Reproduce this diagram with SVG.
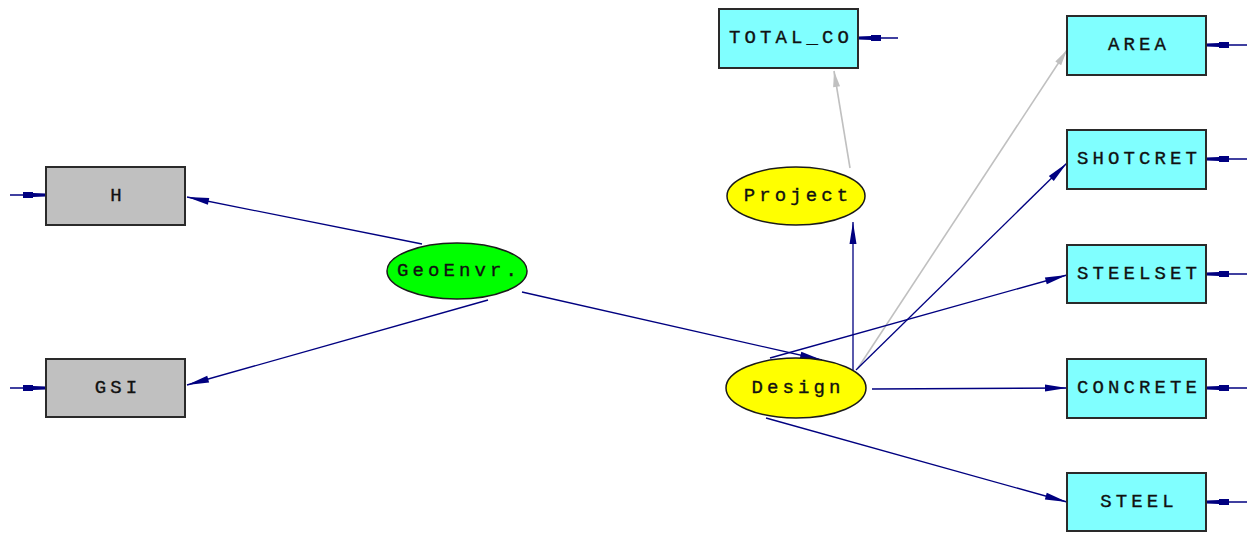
<svg xmlns="http://www.w3.org/2000/svg" width="1253" height="533" viewBox="0 0 1253 533">
<style>
.box{stroke:#2a2a2a;stroke-width:2}
.obs{fill:#80ffff}
.gry{fill:#c0c0c0}
.ell{stroke:#1a1a1a;stroke-width:1.5}
.lbl{font-family:"Liberation Mono","Courier New",monospace;font-size:19px;letter-spacing:4.1px;fill:#111;stroke:#111;stroke-width:0.35;text-anchor:middle;dominant-baseline:central}
.c{stroke:#000080;stroke-width:1.3;fill:none;marker-end:url(#ah)}
.g{stroke:#c0c0c0;stroke-width:1.6;fill:none;marker-end:url(#ahg)}
.e{stroke:#000080;stroke-width:1.3;fill:none;marker-end:url(#ae)}
</style>
<defs>
<marker id="ah" markerUnits="userSpaceOnUse" markerWidth="26" markerHeight="10" viewBox="-24 -5 26 10" refX="0" refY="0" orient="auto">
<path d="M-22,-3.5 L0,0 L-22,3.5 z" fill="#000080"/>
</marker>
<marker id="ahg" markerUnits="userSpaceOnUse" markerWidth="26" markerHeight="10" viewBox="-24 -5 26 10" refX="0" refY="0" orient="auto">
<path d="M-16,-3.5 L0,0 L-16,3.5 z" fill="#c0c0c0"/>
</marker>
<marker id="ae" markerUnits="userSpaceOnUse" markerWidth="26" markerHeight="10" viewBox="-24 -5 26 10" refX="0" refY="0" orient="auto">
<path d="M-23,-3 L-13,-3 L-13,-2 L0,-1.5 L0,1.5 L-13,2 L-13,3 L-23,3 z" fill="#000080"/>
</marker>
</defs>
<rect width="1253" height="533" fill="#ffffff"/>
<g id="connectors">
<line class="c" x1="422" y1="244" x2="187" y2="197"/>
<line class="c" x1="488" y1="300" x2="187" y2="385"/>
<line class="c" x1="522" y1="292" x2="822" y2="360"/>
<line class="c" x1="853" y1="370" x2="853" y2="222"/>
<line class="g" x1="850" y1="168" x2="834" y2="71"/>
<line class="g" x1="858" y1="368" x2="1067" y2="50"/>
<line class="c" x1="856" y1="370" x2="1067" y2="163"/>
<line class="c" x1="770" y1="358" x2="1067" y2="275"/>
<line class="c" x1="872" y1="389" x2="1067" y2="388"/>
<line class="c" x1="766" y1="418" x2="1067" y2="502"/>
<line class="e" x1="10" y1="195" x2="46" y2="195"/>
<line class="e" x1="10" y1="388" x2="46" y2="388"/>
<line class="e" x1="898" y1="38" x2="858" y2="38"/>
<line class="e" x1="1247" y1="45" x2="1206" y2="45"/>
<line class="e" x1="1247" y1="159" x2="1206" y2="159"/>
<line class="e" x1="1247" y1="274" x2="1206" y2="274"/>
<line class="e" x1="1247" y1="388" x2="1206" y2="388"/>
<line class="e" x1="1247" y1="502" x2="1206" y2="502"/>
</g>
<g id="H"><rect class="box gry" x="46" y="167" width="139" height="58"/><text class="lbl" x="118" y="196">H</text></g>
<g id="GSI"><rect class="box gry" x="46" y="359" width="139" height="58"/><text class="lbl" x="118" y="388">GSI</text></g>
<g id="GeoEnvr"><ellipse class="ell" cx="457" cy="271" rx="70" ry="28" fill="#00ff00"/><text class="lbl" x="459" y="271">GeoEnvr.</text></g>
<g id="Project"><ellipse class="ell" cx="796" cy="196" rx="69" ry="29" fill="#ffff00"/><text class="lbl" x="798" y="196">Project</text></g>
<g id="Design"><ellipse class="ell" cx="796" cy="388" rx="70" ry="30" fill="#ffff00"/><text class="lbl" x="798" y="388">Design</text></g>
<g id="TOTAL_CO"><rect class="box obs" x="719" y="9" width="139" height="59"/><text class="lbl" x="791" y="38">TOTAL_CO</text></g>
<g id="AREA"><rect class="box obs" x="1067" y="16" width="139" height="59"/><text class="lbl" x="1139" y="45">AREA</text></g>
<g id="SHOTCRET"><rect class="box obs" x="1067" y="130" width="139" height="59"/><text class="lbl" x="1139" y="159">SHOTCRET</text></g>
<g id="STEELSET"><rect class="box obs" x="1067" y="245" width="139" height="58"/><text class="lbl" x="1139" y="274">STEELSET</text></g>
<g id="CONCRETE"><rect class="box obs" x="1067" y="359" width="139" height="59"/><text class="lbl" x="1139" y="388">CONCRETE</text></g>
<g id="STEEL"><rect class="box obs" x="1067" y="473" width="139" height="58"/><text class="lbl" x="1139" y="502">STEEL</text></g>
</svg>
